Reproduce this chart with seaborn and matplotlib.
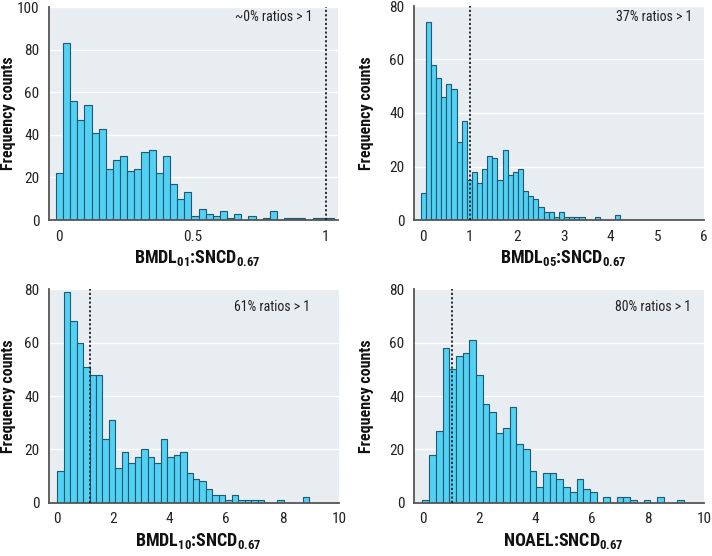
import numpy as np
import pandas as pd
import matplotlib
matplotlib.use("Agg")
import matplotlib.pyplot as plt
from matplotlib import font_manager
import seaborn as sns

# ---------------- data ----------------
counts_bmdl01 = [22, 83, 56, 47, 54, 41, 43, 24, 28, 30, 23, 24, 32, 33, 22, 30, 17, 10, 13, 2,
                 5, 3, 2, 4, 1, 3, 0, 2, 0, 1, 4, 0, 1, 1, 1, 0, 1, 1, 1]
counts_bmdl05 = [10, 74, 58, 53, 46, 51, 49, 29, 37, 15, 18, 14, 19, 24, 23, 15, 26, 17, 18, 19,
                 11, 9, 8, 5, 3, 3, 1, 3, 1, 1, 1, 1, 0, 0, 1, 0, 0, 0, 2]
counts_bmdl10 = [12, 79, 68, 60, 51, 48, 48, 24, 31, 13, 19, 15, 17, 20, 17, 15, 24, 17, 18, 19,
                 11, 9, 8, 5, 3, 3, 1, 3, 1, 1, 1, 1, 0, 0, 1, 0, 0, 0, 2]
counts_noael = [1, 18, 27, 58, 50, 55, 56, 61, 48, 37, 34, 26, 28, 36, 22, 20, 12, 6, 11, 11,
                9, 6, 4, 9, 5, 4, 0, 2, 0, 2, 2, 1, 0, 1, 0, 2, 0, 0, 1]

bin_start = [-0.0125, -0.0548, 0.02, -0.012]
bin_width = [0.02675, 0.1095, 0.229, 0.238]

x_labels = ["BMDL$_{01}$:SNCD$_{0.67}$", "BMDL$_{05}$:SNCD$_{0.67}$",
            "BMDL$_{10}$:SNCD$_{0.67}$", "NOAEL:SNCD$_{0.67}$"]
y_label = "Frequency counts"
annotations = ["~0% ratios > 1", "37% ratios > 1", "61% ratios > 1", "80% ratios > 1"]
ref_lines = [1.0, 1.01, 1.17, 1.05]
x_ticks = [[0, 0.5, 1], [0, 1, 2, 3, 4, 5, 6], [0, 2, 4, 6, 8, 10], [0, 2, 4, 6, 8, 10]]
x_tick_labels = [["0", "0.5", "1"], ["0", "1", "2", "3", "4", "5", "6"],
                 ["0", "2", "4", "6", "8", "10"], ["0", "2", "4", "6", "8", "10"]]
y_ticks = [[0, 20, 40, 60, 80, 100], [0, 20, 40, 60, 80], [0, 20, 40, 60, 80], [0, 20, 40, 60, 80]]
all_counts = [counts_bmdl01, counts_bmdl05, counts_bmdl10, counts_noael]

# ---------------- style ----------------
sns.set_theme(style="white")
avail = {f.name for f in font_manager.fontManager.ttflist}
narrow = None
for cand in ["Roboto Condensed", "Liberation Sans Narrow", "DejaVu Sans Condensed", "Open Sans Condensed"]:
    if cand in avail:
        narrow = cand
        break
if narrow is None:
    narrow = "DejaVu Sans"
plt.rcParams["font.family"] = [narrow, "DejaVu Sans"]
plt.rcParams["mathtext.fontset"] = "custom"
plt.rcParams["mathtext.rm"] = f"{narrow}:bold"
plt.rcParams["mathtext.it"] = f"{narrow}:bold"
plt.rcParams["mathtext.bf"] = f"{narrow}:bold"

BG = "#e8edf2"
BAR = "#52d1f4"
EDGE = "#1f5a70"
SPINE = "#555555"

W, H = 712, 556
fig = plt.figure(figsize=(W / 100, H / 100), dpi=100)
fig.patch.set_facecolor("white")

boxes = [
    (49.3, 7.3, 338, 220),
    (414.3, 6, 704, 220),
    (49.3, 289.3, 339, 502.7),
    (414.3, 289.3, 704.3, 502.7),
]
xlims = [(-0.0375, 1.046), (-0.19, 6.0), (-0.26, 10.0), (-0.30, 10.0)]
ann_pos = [(0.91, 0.953), (0.961, 0.95), (0.90, 0.918), (0.954, 0.918)]
ylabel_x = [9, 367, 9, 367]

for i in range(4):
    l, t, r, b = boxes[i]
    ax = fig.add_axes([l / W, 1 - b / H, (r - l) / W, (b - t) / H])
    ax.set_facecolor(BG)
    n = len(all_counts[i])
    edges = bin_start[i] + bin_width[i] * np.arange(n + 1)
    centers = (edges[:-1] + edges[1:]) / 2
    df = pd.DataFrame({"ratio": centers, "count": np.asarray(all_counts[i], dtype=float)})
    sns.histplot(data=df, x="ratio", weights="count", bins=[float(e) for e in edges], ax=ax,
                 color=BAR, edgecolor=EDGE, linewidth=0.8, alpha=1.0, zorder=3)
    ax.set_xlim(*xlims[i])
    ax.set_ylim(0, y_ticks[i][-1])
    ax.set_yticks(y_ticks[i])
    ax.set_xticks(x_ticks[i])
    ax.set_xticklabels(x_tick_labels[i])
    ax.yaxis.grid(True, color="white", linewidth=1.0, zorder=0)
    ax.xaxis.grid(False)
    ax.set_axisbelow(True)
    for s in ["top", "right"]:
        ax.spines[s].set_visible(False)
    for s in ["left", "bottom"]:
        ax.spines[s].set_color(SPINE)
        ax.spines[s].set_linewidth(1.3)
        ax.spines[s].set_zorder(5)
    ax.tick_params(axis="both", length=0, labelsize=11, colors="#222222", pad=7)
    ax.axvline(ref_lines[i], color="#222222", linestyle=(0, (1.2, 1.2)), linewidth=1.3, zorder=6)
    ax.text(ann_pos[i][0], ann_pos[i][1], annotations[i], transform=ax.transAxes,
            ha="right", va="center", fontsize=10, color="#222222")
    ax.set_xlabel("")
    ax.set_ylabel("")
    # axis titles placed in figure pixels
    fig.text((l + r) / 2 / W + 4 / W, 1 - (b + 43) / H, x_labels[i], ha="center", va="baseline",
             fontsize=13, fontweight="bold", color="#111111")
    fig.text(ylabel_x[i] / W, 1 - (t + b) / 2 / H, y_label, ha="center", va="center",
             rotation=90, fontsize=11.5, fontweight="bold", color="#111111")

fig.savefig("out.png", dpi=100)
